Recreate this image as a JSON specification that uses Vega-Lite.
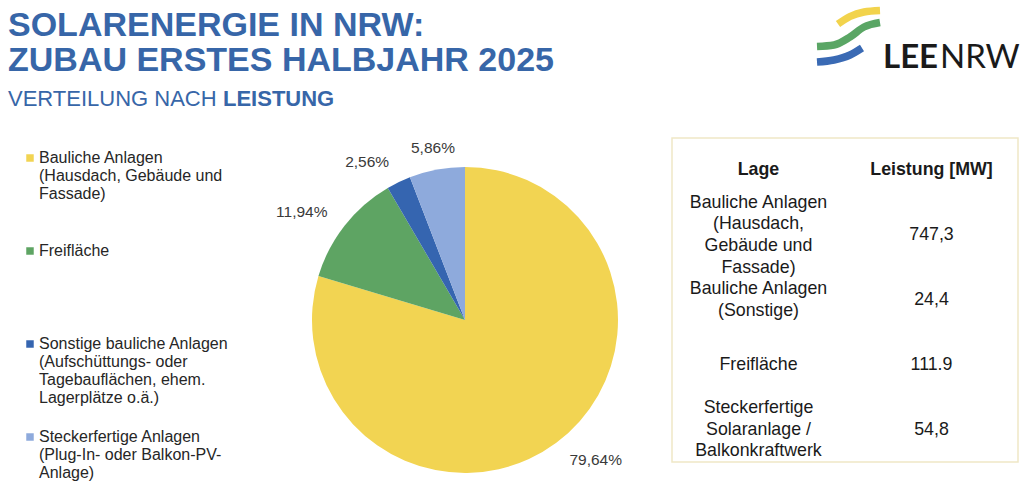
{
  "$schema": "https://vega.github.io/schema/vega-lite/v6.json",
  "background": "white",
  "padding": {"left": 8, "top": 5, "right": 0, "bottom": 0},
  "config": {"view": {"stroke": null}, "font": "Liberation Sans"},
  "spacing": 48,
  "hconcat": [
    {
      "spacing": 3,
      "resolve": {"scale": {"color": "independent"}, "legend": {"color": "independent"}},
      "vconcat": [
        {
          "width": 306,
          "height": 132,
          "data": {
            "values": [
              {"zeile": 1, "teil": "titel", "text": "SOLARENERGIE IN NRW:"},
              {"zeile": 2, "teil": "titel", "text": "ZUBAU ERSTES HALBJAHR 2025"},
              {"zeile": 3, "teil": "unter", "text": "VERTEILUNG NACH"},
              {"zeile": 3, "teil": "fett", "text": "LEISTUNG"}
            ]
          },
          "encoding": {
            "x": {"datum": 0, "type": "quantitative", "scale": {"domain": [0, 1]}, "axis": null},
            "y": {"field": "zeile", "type": "ordinal", "scale": {"padding": 0.8857}, "axis": null},
            "text": {"field": "text"}
          },
          "layer": [
            {
              "transform": [{"filter": "datum.teil == 'titel'"}],
              "mark": {"type": "text", "align": "left", "baseline": "alphabetic", "dx": -304, "font": "Liberation Sans", "fontSize": 34, "fontWeight": "bold", "color": "#3766a8"}
            },
            {
              "transform": [{"filter": "datum.teil == 'unter'"}],
              "mark": {"type": "text", "align": "left", "baseline": "alphabetic", "dx": -304, "font": "Liberation Sans", "fontSize": 22, "color": "#3766a8"}
            },
            {
              "transform": [{"filter": "datum.teil == 'fett'"}],
              "mark": {"type": "text", "align": "left", "baseline": "alphabetic", "dx": -89, "font": "Liberation Sans", "fontSize": 22, "fontWeight": "bold", "color": "#3766a8"}
            }
          ]
        },
        {
          "width": 306,
          "height": 306,
          "data": {
            "values": [
              {"nr": 1, "kategorie": "Bauliche Anlagen\n(Hausdach, Gebäude und\nFassade)", "anteil": 79.64, "label": "79,64%"},
              {"nr": 2, "kategorie": "Freifläche", "anteil": 11.94, "label": "11,94%"},
              {"nr": 3, "kategorie": "Sonstige bauliche Anlagen\n(Aufschüttungs- oder\nTagebauflächen, ehem.\nLagerplätze o.ä.)", "anteil": 2.56, "label": "2,56%"},
              {"nr": 4, "kategorie": "Steckerfertige Anlagen\n(Plug-In- oder Balkon-PV-\nAnlage)", "anteil": 5.86, "label": "5,86%"}
            ]
          },
          "encoding": {
            "theta": {"field": "anteil", "type": "quantitative", "stack": true},
            "order": {"field": "nr", "type": "quantitative"},
            "color": {
              "field": "kategorie",
              "type": "nominal",
              "scale": {
                "domain": [
                  "Bauliche Anlagen\n(Hausdach, Gebäude und\nFassade)",
                  "Freifläche",
                  "Sonstige bauliche Anlagen\n(Aufschüttungs- oder\nTagebauflächen, ehem.\nLagerplätze o.ä.)",
                  "Steckerfertige Anlagen\n(Plug-In- oder Balkon-PV-\nAnlage)"
                ],
                "range": ["#f2d452", "#5ea463", "#3565b0", "#8eaadc"]
              },
              "legend": {
                "orient": "none",
                "legendX": -290,
                "legendY": -17,
                "title": null,
                "padding": 0,
                "symbolType": "square",
                "symbolSize": 56,
                "symbolStrokeWidth": 0,
                "labelFont": "Liberation Sans",
                "labelFontSize": 16,
                "labelColor": "#262626",
                "labelLimit": 400,
                "labelOffset": 1,
                "labelBaseline": "middle",
                "rowPadding": 23,
                "labelExpr": "slice(split(datum.label + '\\n\\n\\n', '\\n'), 0, 4)",
                "encode": {"labels": {"update": {"lineHeight": {"value": 19}}}}
              }
            }
          },
          "layer": [
            {"mark": {"type": "arc", "stroke": null}},
            {
              "mark": {"type": "text", "radius": 175, "fontSize": 15.5, "font": "Liberation Sans", "align": {"expr": "datum.nr == 1 ? 'left' : datum.nr == 4 ? 'center' : 'right'"}},
              "encoding": {"text": {"field": "label"}, "color": {"value": "#3a3a3a"}}
            }
          ]
        }
      ]
    },
    {
      "spacing": 62,
      "vconcat": [
        {
          "width": 346,
          "height": 70,
          "data": {
            "values": [
              {"streifen": "gelb", "i": 1, "x": 838, "y": 24, "t": ""},
              {"streifen": "gelb", "i": 2, "x": 850, "y": 16.5, "t": ""},
              {"streifen": "gelb", "i": 3, "x": 864, "y": 12, "t": ""},
              {"streifen": "gelb", "i": 4, "x": 880, "y": 10.5, "t": ""},
              {"streifen": "gruen", "i": 1, "x": 817, "y": 46.5, "t": ""},
              {"streifen": "gruen", "i": 2, "x": 834, "y": 45, "t": ""},
              {"streifen": "gruen", "i": 3, "x": 850, "y": 37, "t": ""},
              {"streifen": "gruen", "i": 4, "x": 864, "y": 27, "t": ""},
              {"streifen": "gruen", "i": 5, "x": 880, "y": 22.5, "t": ""},
              {"streifen": "blau", "i": 1, "x": 817, "y": 62, "t": ""},
              {"streifen": "blau", "i": 2, "x": 834, "y": 60, "t": ""},
              {"streifen": "blau", "i": 3, "x": 850, "y": 55, "t": ""},
              {"streifen": "blau", "i": 4, "x": 862, "y": 48, "t": ""},
              {"streifen": "wort1", "i": 1, "x": 883, "y": 68, "t": "LEE"},
              {"streifen": "wort2", "i": 1, "x": 940, "y": 68, "t": "NRW"}
            ]
          },
          "encoding": {
            "x": {"field": "x", "type": "quantitative", "scale": {"domain": [672, 1018], "nice": false, "zero": false}, "axis": null},
            "y": {"field": "y", "type": "quantitative", "scale": {"domain": [75, 5], "nice": false, "zero": false}, "axis": null},
            "order": {"field": "i", "type": "quantitative"}
          },
          "layer": [
            {
              "transform": [{"filter": "datum.streifen == 'gelb'"}],
              "mark": {"type": "line", "interpolate": "monotone", "strokeWidth": 7.5, "strokeCap": "butt", "strokeJoin": "round", "color": "#f2d34c"}
            },
            {
              "transform": [{"filter": "datum.streifen == 'gruen'"}],
              "mark": {"type": "line", "interpolate": "monotone", "strokeWidth": 7.5, "strokeCap": "butt", "strokeJoin": "round", "color": "#5aa665"}
            },
            {
              "transform": [{"filter": "datum.streifen == 'blau'"}],
              "mark": {"type": "line", "interpolate": "monotone", "strokeWidth": 7.5, "strokeCap": "butt", "strokeJoin": "round", "color": "#3a6ab4"}
            },
            {
              "transform": [{"filter": "datum.streifen == 'wort1'"}],
              "mark": {"type": "text", "align": "left", "baseline": "alphabetic", "font": "Lato", "fontSize": 33, "fontWeight": "bold", "color": "#1a1a1a"},
              "encoding": {"text": {"field": "t"}}
            },
            {
              "transform": [{"filter": "datum.streifen == 'wort2'"}],
              "mark": {"type": "text", "align": "left", "baseline": "alphabetic", "font": "Lato", "fontSize": 33, "fontWeight": "normal", "color": "#1a1a1a"},
              "encoding": {"text": {"field": "t"}}
            }
          ]
        },
        {
          "width": 346,
          "height": 324,
          "view": {"stroke": "#f0e8c6", "strokeWidth": 1.5},
          "data": {
            "values": [
              {"zeile": 0, "spalte": "Lage", "inhalt": "Lage"},
              {"zeile": 0, "spalte": "Leistung [MW]", "inhalt": "Leistung [MW]"},
              {"zeile": 1, "spalte": "Lage", "inhalt": "Bauliche Anlagen\n(Hausdach,\nGebäude und\nFassade)"},
              {"zeile": 1, "spalte": "Leistung [MW]", "inhalt": "747,3"},
              {"zeile": 2, "spalte": "Lage", "inhalt": "Bauliche Anlagen\n(Sonstige)"},
              {"zeile": 2, "spalte": "Leistung [MW]", "inhalt": "24,4"},
              {"zeile": 3, "spalte": "Lage", "inhalt": "Freifläche"},
              {"zeile": 3, "spalte": "Leistung [MW]", "inhalt": "111.9"},
              {"zeile": 4, "spalte": "Lage", "inhalt": "Steckerfertige\nSolaranlage /\nBalkonkraftwerk"},
              {"zeile": 4, "spalte": "Leistung [MW]", "inhalt": "54,8"}
            ]
          },
          "encoding": {
            "x": {"field": "spalte", "type": "nominal", "sort": ["Lage", "Leistung [MW]"], "axis": null, "scale": {"padding": 0.5}},
            "y": {"field": "zeile", "type": "ordinal", "axis": null, "scale": {"padding": 0.5}},
            "text": {"field": "inhalt"}
          },
          "layer": [
            {
              "transform": [{"filter": "datum.zeile == 0"}],
              "mark": {"type": "text", "font": "Liberation Sans", "fontSize": 17.8, "fontWeight": "bold", "color": "#1a1a1a"}
            },
            {
              "transform": [{"filter": "datum.zeile > 0"}],
              "mark": {"type": "text", "font": "Liberation Sans", "fontSize": 17.8, "color": "#1a1a1a", "lineBreak": "\n", "lineHeight": 21.7, "dy": {"expr": "-(length(split(datum.inhalt, '\\n')) - 1) * 21.7 / 2"}}
            }
          ]
        }
      ]
    }
  ]
}
